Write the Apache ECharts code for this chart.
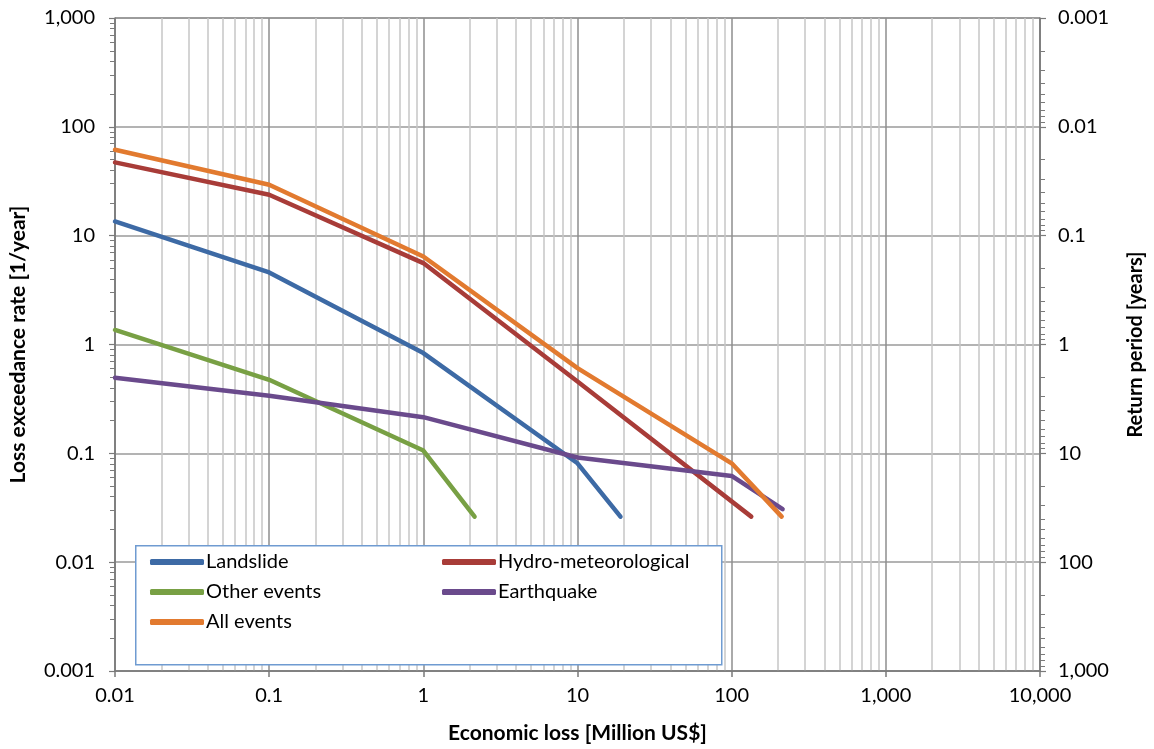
<!DOCTYPE html>
<html>
<head>
<meta charset="utf-8">
<script src="https://cdn.jsdelivr.net/npm/echarts@6/dist/echarts.min.js"></script>
<style>
  html, body { margin: 0; padding: 0; background: #fff; }
  #chart { width: 1154px; height: 749px; }
</style>
</head>
<body>
<div id="chart"></div>
<script>
// Loss exceedance curves: economic loss (x) vs. annual exceedance rate (y)
const seriesNames = ['Landslide', 'Hydro-meteorological', 'Other events', 'Earthquake', 'All events'];

const landslideLoss = [0.01, 0.1, 1, 10, 19];
const landslideRate = [13.5, 4.59, 0.834, 0.081, 0.0262];

const hydroLoss = [0.01, 0.1, 1, 10, 134];
const hydroRate = [47.1, 23.8, 5.6, 0.457, 0.0262];

const otherLoss = [0.01, 0.1, 1, 2.15];
const otherRate = [1.36, 0.474, 0.106, 0.0262];

const quakeLoss = [0.01, 0.1, 1, 10, 100, 214];
const quakeRate = [0.494, 0.338, 0.215, 0.0915, 0.062, 0.0307];

const allLoss = [0.01, 0.1, 1, 10, 100, 211];
const allRate = [61.6, 29.4, 6.44, 0.607, 0.081, 0.0262];

// Tick labels, one per decade
const lossTicks = ['0.01', '0.1', '1', '10', '100', '1,000', '10,000'];           // 1e-2 .. 1e4
const rateTicks = ['0.001', '0.01', '0.1', '1', '10', '100', '1,000'];            // 1e-3 .. 1e3
const periodTicks = ['0.001', '0.01', '0.1', '1', '10', '100', '1,000'];          // 1e-3 .. 1e3

const colors = ['#3d6aa5', '#a83c38', '#78a044', '#6a4a8c', '#e27a2f'];

function pairs(xs, ys) { return xs.map((x, i) => [x, ys[i]]); }
function decadeLabel(list, minExp) {
  return v => list[Math.round(Math.log10(v)) - minExp] || '';
}

const FONT = 'Lato';
const axisColor = '#7a7a7a';
const titleStyle = { fontFamily: FONT, fontSize: 21, fontWeight: 'bold', color: '#000' };
const tickStyle = { fontFamily: FONT, fontSize: 20, color: '#000' };

const chart = echarts.init(document.getElementById('chart'), null, { renderer: 'canvas' });

const lineSeries = [
  [landslideLoss, landslideRate],
  [hydroLoss, hydroRate],
  [otherLoss, otherRate],
  [quakeLoss, quakeRate],
  [allLoss, allRate]
].map((d, i) => ({
  name: seriesNames[i],
  type: 'line',
  xAxisIndex: 0,
  yAxisIndex: 0,
  data: pairs(d[0], d[1]),
  showSymbol: false,
  symbol: 'none',
  color: colors[i],
  lineStyle: { width: 4.5, color: colors[i], cap: 'round', join: 'round' },
  emphasis: { disabled: true },
  z: 3 + (i === 4 ? 1 : 0)
}));

chart.setOption({
  animation: false,
  backgroundColor: '#fff',
  color: colors,
  grid: {
    left: 112, right: 110, top: 18, bottom: 78,
    show: true, borderColor: '#444', borderWidth: 1, backgroundColor: 'transparent'
  },
  xAxis: {
    type: 'log', logBase: 10, min: 0.01, max: 10000,
    name: 'Economic loss [Million US$]',
    nameLocation: 'middle', nameGap: 52,
    nameTextStyle: titleStyle,
    axisLine: { show: true, lineStyle: { color: axisColor, width: 1.5 } },
    axisTick: { show: true, length: 6, lineStyle: { color: axisColor, width: 1.5 } },
    minorTick: { show: false, splitNumber: 9 },
    axisLabel: Object.assign({ margin: 15, formatter: decadeLabel(lossTicks, -2) }, tickStyle),
    splitLine: { show: true, lineStyle: { color: '#8e8e8e', width: 1.5 } },
    minorSplitLine: { show: true, lineStyle: { color: '#c6c6c6', width: 1.5 } }
  },
  yAxis: [
    {
      type: 'log', logBase: 10, min: 0.001, max: 1000,
      name: 'Loss exceedance rate [1/year]',
      nameLocation: 'middle', nameGap: 86, nameRotate: 90,
      nameTextStyle: titleStyle,
      axisLine: { show: true, lineStyle: { color: axisColor, width: 1.5 } },
      axisTick: { show: true, length: 6, lineStyle: { color: axisColor, width: 1.2 } },
      minorTick: { show: true, splitNumber: 9, length: 5, lineStyle: { color: axisColor, width: 1 } },
      axisLabel: Object.assign({ margin: 20, formatter: decadeLabel(rateTicks, -3) }, tickStyle),
      splitLine: { show: true, lineStyle: { color: '#9a9a9a', width: 1.5 } },
      minorSplitLine: { show: false }
    },
    {
      type: 'log', logBase: 10, min: 0.001, max: 1000, inverse: true,
      position: 'right',
      name: 'Return period [years]',
      nameLocation: 'middle', nameGap: 86, nameRotate: 90,
      nameTextStyle: Object.assign({}, titleStyle, { fontSize: 20 }),
      axisLine: { show: true, lineStyle: { color: axisColor, width: 1.5 } },
      axisTick: { show: true, length: 6, lineStyle: { color: axisColor, width: 1.2 } },
      minorTick: { show: true, splitNumber: 9, length: 5, lineStyle: { color: axisColor, width: 1 } },
      axisLabel: Object.assign({ margin: 18, formatter: decadeLabel(periodTicks, -3) }, tickStyle),
      splitLine: { show: false },
      minorSplitLine: { show: false }
    }
  ],
  graphic: [{
    type: 'rect',
    left: 135, top: 545,
    shape: { width: 586, height: 119 },
    style: { fill: '#fff', stroke: '#6f9bd1', lineWidth: 1.5 },
    z: 10
  }],
  legend: {
    data: seriesNames,
    orient: 'horizontal',
    left: 150, top: 547,
    width: 600,
    itemGap: 0,
    itemWidth: 54, itemHeight: 6,
    icon: 'roundRect',
    padding: 0,
    selectedMode: false,
    textStyle: { fontFamily: FONT, fontSize: 20, color: '#000', width: 236, lineHeight: 30, padding: [0, 0, 0, -3] },
    z: 11
  },
  series: lineSeries
});
</script>
</body>
</html>
